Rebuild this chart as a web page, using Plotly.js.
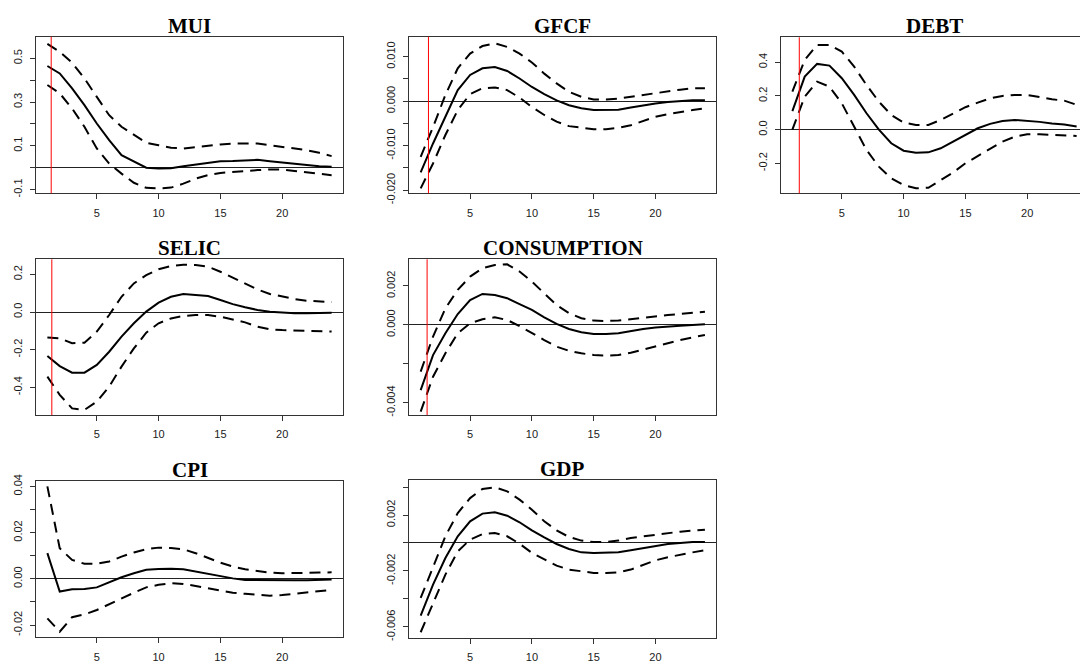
<!DOCTYPE html>
<html>
<head>
<meta charset="utf-8">
<script src="https://cdn.plot.ly/plotly-3.0.1.min.js"></script>
<style>
  html, body { margin: 0; padding: 0; overflow: hidden; background: #fff; }
  #chart { width: 1090px; height: 663px; }
</style>
</head>
<body>
<div id="chart"></div>
<script>
// ---------------- data ----------------
const steps = [1,2,3,4,5,6,7,8,9,10,11,12,13,14,15,16,17,18,19,20,21,22,23,24];

const panelNames = ["MUI", "GFCF", "DEBT", "SELIC", "CONSUMPTION", "CPI", "GDP"];

const muiIrf   = [0.465,0.431,0.363,0.286,0.202,0.126,0.057,0.027,0.000,-0.004,-0.002,0.007,0.015,0.022,0.030,0.031,0.034,0.036,0.030,0.024,0.016,0.010,0.007,0.004];
const muiUpper = [0.566,0.530,0.480,0.408,0.324,0.240,0.187,0.149,0.114,0.103,0.091,0.088,0.095,0.100,0.106,0.110,0.112,0.111,0.103,0.095,0.088,0.080,0.068,0.053];
const muiLower = [0.378,0.340,0.271,0.187,0.088,0.019,-0.027,-0.069,-0.092,-0.095,-0.091,-0.073,-0.050,-0.034,-0.024,-0.019,-0.015,-0.011,-0.008,-0.008,-0.015,-0.021,-0.027,-0.034];

const gfcfIrf   = [-0.0160,-0.0095,-0.0035,0.0025,0.0059,0.0074,0.0077,0.0068,0.0051,0.0032,0.0016,0.0002,-0.0009,-0.0016,-0.0020,-0.0020,-0.0019,-0.0014,-0.0009,-0.0005,-0.0002,0.0000,0.0002,0.0002];
const gfcfUpper = [-0.0125,-0.0058,0.0014,0.0074,0.0107,0.0124,0.0130,0.0122,0.0107,0.0087,0.0062,0.0040,0.0021,0.0010,0.0004,0.0004,0.0006,0.0010,0.0014,0.0019,0.0023,0.0026,0.0029,0.0029];
const gfcfLower = [-0.0196,-0.0140,-0.0076,-0.0020,0.0016,0.0029,0.0031,0.0025,0.0008,-0.0013,-0.0031,-0.0046,-0.0056,-0.0060,-0.0063,-0.0063,-0.0060,-0.0054,-0.0045,-0.0035,-0.0029,-0.0024,-0.0020,-0.0016];

const debtIrf   = [0.110,0.315,0.390,0.380,0.305,0.206,0.097,0.000,-0.081,-0.125,-0.137,-0.135,-0.111,-0.071,-0.032,0.008,0.034,0.051,0.057,0.053,0.046,0.036,0.030,0.018];
const debtUpper = [0.226,0.414,0.503,0.503,0.463,0.374,0.265,0.166,0.087,0.042,0.028,0.028,0.057,0.097,0.133,0.160,0.186,0.200,0.206,0.206,0.192,0.180,0.172,0.147];
const debtLower = [0.000,0.196,0.285,0.255,0.156,0.018,-0.121,-0.220,-0.289,-0.329,-0.348,-0.345,-0.299,-0.255,-0.200,-0.156,-0.111,-0.071,-0.042,-0.028,-0.028,-0.032,-0.036,-0.038];

const selicIrf   = [-0.234,-0.287,-0.322,-0.322,-0.281,-0.211,-0.131,-0.060,0.002,0.050,0.081,0.096,0.090,0.085,0.064,0.042,0.025,0.011,0.002,-0.004,-0.007,-0.007,-0.007,-0.004];
const selicUpper = [-0.136,-0.140,-0.166,-0.163,-0.104,-0.016,0.081,0.152,0.196,0.227,0.244,0.251,0.250,0.241,0.214,0.184,0.152,0.120,0.096,0.081,0.069,0.060,0.055,0.053];
const selicLower = [-0.343,-0.440,-0.512,-0.520,-0.476,-0.396,-0.290,-0.193,-0.110,-0.060,-0.034,-0.021,-0.016,-0.016,-0.025,-0.039,-0.055,-0.078,-0.092,-0.096,-0.099,-0.101,-0.103,-0.104];

const consIrf   = [-0.00335,-0.00155,-0.00043,0.00056,0.00128,0.00159,0.00153,0.00137,0.00107,0.00077,0.00039,0.00005,-0.00021,-0.00038,-0.00047,-0.00047,-0.00043,-0.00031,-0.00021,-0.00013,-0.00007,-0.00004,0.00000,0.00003];
const consUpper = [-0.00240,-0.00060,0.00085,0.00180,0.00248,0.00291,0.00308,0.00311,0.00274,0.00222,0.00162,0.00102,0.00060,0.00034,0.00022,0.00020,0.00022,0.00029,0.00037,0.00046,0.00051,0.00056,0.00063,0.00068];
const consLower = [-0.00446,-0.00266,-0.00146,-0.00043,0.00008,0.00029,0.00039,0.00025,-0.00006,-0.00043,-0.00078,-0.00112,-0.00133,-0.00146,-0.00155,-0.00158,-0.00155,-0.00143,-0.00126,-0.00109,-0.00095,-0.00078,-0.00064,-0.00052];

const cpiIrf   = [0.0111,-0.0055,-0.0045,-0.0044,-0.0037,-0.0016,0.0007,0.0024,0.0039,0.0043,0.0044,0.0041,0.0031,0.0020,0.0010,0.0002,-0.0005,-0.0006,-0.0006,-0.0006,-0.0006,-0.0006,-0.0005,-0.0003];
const cpiUpper = [0.0400,0.0132,0.0082,0.0065,0.0065,0.0075,0.0096,0.0114,0.0128,0.0135,0.0133,0.0128,0.0111,0.0089,0.0070,0.0053,0.0041,0.0034,0.0027,0.0024,0.0024,0.0024,0.0027,0.0028];
const cpiLower = [-0.0171,-0.0229,-0.0166,-0.0154,-0.0135,-0.0109,-0.0084,-0.0060,-0.0037,-0.0026,-0.0019,-0.0022,-0.0031,-0.0041,-0.0052,-0.0060,-0.0065,-0.0070,-0.0073,-0.0070,-0.0065,-0.0060,-0.0052,-0.0048];

const gdpIrf   = [-0.00519,-0.00298,-0.00107,0.00048,0.00155,0.00210,0.00219,0.00195,0.00148,0.00090,0.00040,-0.00007,-0.00043,-0.00067,-0.00071,-0.00071,-0.00067,-0.00052,-0.00036,-0.00019,-0.00007,0.00000,0.00007,0.00007];
const gdpUpper = [-0.00393,-0.00179,0.00048,0.00214,0.00321,0.00386,0.00398,0.00369,0.00310,0.00238,0.00155,0.00090,0.00043,0.00017,0.00007,0.00007,0.00017,0.00036,0.00048,0.00060,0.00071,0.00081,0.00088,0.00095];
const gdpLower = [-0.00638,-0.00429,-0.00226,-0.00060,0.00024,0.00064,0.00071,0.00048,-0.00005,-0.00071,-0.00119,-0.00162,-0.00190,-0.00202,-0.00214,-0.00214,-0.00210,-0.00190,-0.00155,-0.00124,-0.00102,-0.00083,-0.00067,-0.00052];

// vertical red reference lines (x value per panel, null = none)
const redLineX = [1.31, 1.63, 1.56, 1.36, 1.52, null, null];

// tick values / labels
const xTickVals = [5, 10, 15, 20];
const yTickVals = [
  [-0.1, 0, 0.1, 0.2, 0.3, 0.4, 0.5],
  [-0.02, -0.015, -0.01, -0.005, 0, 0.005, 0.01],
  [-0.2, 0, 0.2, 0.4],
  [-0.4, -0.2, 0, 0.2],
  [-0.004, -0.002, 0, 0.002],
  [-0.02, -0.01, 0, 0.01, 0.02, 0.03, 0.04],
  [-0.006, -0.004, -0.002, 0, 0.002, 0.004]
];
const yTickText = [
  ["-0.1", "", "0.1", "", "0.3", "", "0.5"],
  ["-0.020", "", "-0.010", "", "0.000", "", "0.010"],
  ["-0.2", "0.0", "0.2", "0.4"],
  ["-0.4", "-0.2", "0.0", "0.2"],
  ["-0.004", "", "0.000", "0.002"],
  ["-0.02", "", "0.00", "", "0.02", "", "0.04"],
  ["-0.006", "", "-0.002", "", "0.002", ""]
];

const irfSeries   = [muiIrf, gfcfIrf, debtIrf, selicIrf, consIrf, cpiIrf, gdpIrf];
const upperSeries = [muiUpper, gfcfUpper, debtUpper, selicUpper, consUpper, cpiUpper, gdpUpper];
const lowerSeries = [muiLower, gfcfLower, debtLower, selicLower, consLower, cpiLower, gdpLower];

// ---------------- layout geometry (pixels) ----------------
const W = 1090, H = 663;
const boxes = [
  [36, 343, 36.7, 193.3],
  [409.3, 716.3, 36.7, 193.3],
  [781, 1088, 37.3, 193.3],
  [36, 343, 259.3, 415],
  [409.3, 716.3, 259.3, 415],
  [36, 343, 481.3, 637.3],
  [409.3, 716.3, 480.3, 638]
];
const yRanges = [
  [-0.117, 0.599],
  [-0.0207, 0.0145],
  [-0.378, 0.548],
  [-0.547, 0.28],
  [-0.00463, 0.00337],
  [-0.0253, 0.0422],
  [-0.00679, 0.00448]
];

const traces = [];
const layout = {
  width: W, height: H,
  margin: {l: 0, r: 0, t: 0, b: 0},
  paper_bgcolor: "#fff", plot_bgcolor: "#fff",
  showlegend: false,
  annotations: [], shapes: []
};

const tickFont = {family: "Liberation Sans, Arial, sans-serif", size: 11, color: "#1a1a1a"};

panelNames.forEach((name, i) => {
  const n = i === 0 ? "" : String(i + 1);
  const xa = "x" + n, ya = "y" + n;
  const b = boxes[i];
  const dash = {color: "#000", width: 2, dash: "11px,7px"};
  traces.push({x: steps, y: upperSeries[i], xaxis: xa, yaxis: ya, mode: "lines", line: dash, hoverinfo: "skip"});
  traces.push({x: steps, y: lowerSeries[i], xaxis: xa, yaxis: ya, mode: "lines", line: dash, hoverinfo: "skip"});
  traces.push({x: steps, y: irfSeries[i], xaxis: xa, yaxis: ya, mode: "lines", line: {color: "#000", width: 2}, hoverinfo: "skip"});

  layout["xaxis" + n] = {
    domain: [b[0] / W, b[1] / W], anchor: ya,
    range: [0.08, 24.92], tickmode: "array", tickvals: xTickVals,
    ticks: "outside", ticklen: 5, tickwidth: 1, tickcolor: "#333",
    ticklabelstandoff: 4,
    showgrid: false, zeroline: false,
    showline: true, mirror: true, linecolor: "#333", linewidth: 1,
    tickfont: tickFont, fixedrange: true
  };
  layout["yaxis" + n] = {
    domain: [(H - b[3]) / H, (H - b[2]) / H], anchor: xa,
    range: yRanges[i], tickmode: "array", tickvals: yTickVals[i], ticktext: yTickText[i],
    tickangle: -90,
    ticks: "outside", ticklen: 5, tickwidth: 1, tickcolor: "#333",
    ticklabelstandoff: 4,
    showgrid: false,
    zeroline: true, zerolinecolor: "#222", zerolinewidth: 1,
    showline: true, mirror: true, linecolor: "#333", linewidth: 1,
    tickfont: tickFont, fixedrange: true
  };

  layout.annotations.push({
    text: name, xref: xa + " domain", yref: ya + " domain", x: 0.5, y: 1,
    xanchor: "center", yanchor: "bottom", yshift: -3, showarrow: false,
    font: {family: "Liberation Serif, Times New Roman, serif", size: 21, color: "#000", weight: "bold"}
  });

  if (redLineX[i] !== null) {
    layout.shapes.push({
      type: "line", xref: xa, yref: ya + " domain",
      x0: redLineX[i], x1: redLineX[i], y0: 0, y1: 1,
      line: {color: "#ff0000", width: 1}, layer: "above"
    });
  }
});

Plotly.newPlot("chart", traces, layout, {staticPlot: true, displayModeBar: false});
</script>
</body>
</html>
